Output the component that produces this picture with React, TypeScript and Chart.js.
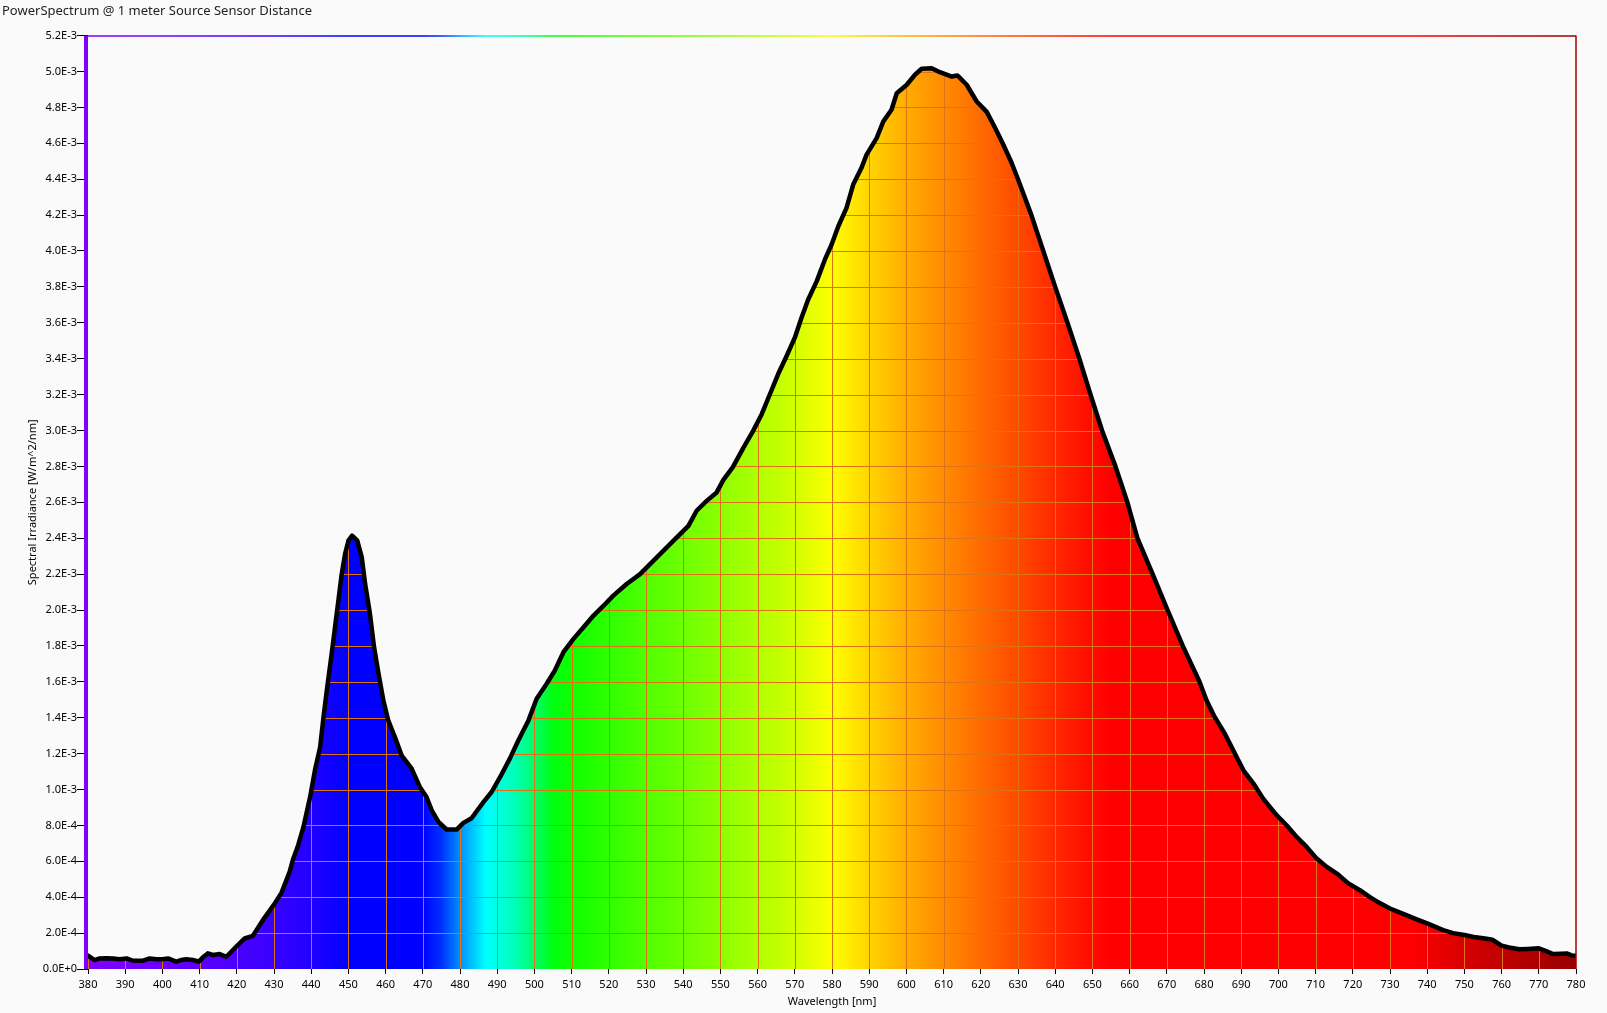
import React, { useEffect, useRef } from "react";
import { Chart, registerables } from "chart.js";

Chart.register(...registerables);

const TITLE = "PowerSpectrum @ 1 meter Source Sensor Distance";
const X_TITLE = "Wavelength [nm]";
const Y_TITLE = "Spectral Irradiance [W/m^2/nm]";

const X_MIN = 380;
const X_MAX = 780;
const X_STEP = 10;
const Y_MIN = 0;
const Y_MAX = 0.0052;
const Y_STEP = 0.0002;
const UNIT = 1e-3; // irradiance values below are in units of 1E-3 W/m^2/nm

const WAVELENGTHS = [
  380, 381.8, 383.1, 385, 386.7, 388.5, 390.4, 392.1, 394.8, 396.6, 398.4, 400, 401.5, 403.7, 405, 406.4,
  408.2, 409.8, 410.9, 412.2, 413.6, 415.4, 417.2, 418.5, 420, 422.1, 424.3, 427, 429.9, 432, 434.2, 435.2,
  436.5, 437.9, 439.7, 441, 442.4, 443.3, 444.3, 445.5, 446.4, 447.3, 448.2, 449.1, 450, 451, 452.4, 453.6,
  454.5, 455.8, 456.9, 458.1, 459.4, 460.7, 462.5, 464.3, 467, 469.2, 471, 472.4, 474.2, 476.4, 479.1, 480.9,
  483.1, 486.3, 488.5, 490.8, 493.4, 495.7, 498.4, 500.6, 503.3, 505.5, 507.8, 510.5, 513.2, 515.9, 518.6,
  521.2, 524.8, 528.4, 532.9, 537.4, 541.4, 543.6, 546.3, 549, 550.8, 553.3, 556.2, 558.8, 561.1, 563.3,
  565.5, 567.8, 570, 571.8, 573.6, 575.9, 578.1, 579.9, 581.7, 583.9, 585.7, 587.9, 589.3, 592, 593.8, 596,
  597.4, 600.1, 602.3, 604.1, 606.8, 609, 612.2, 613.7, 616.2, 618.9, 621.6, 624, 626, 628.3, 630, 633.6,
  636.8, 640, 643.3, 646.5, 649.5, 652.6, 656.2, 659.4, 662.1, 666.2, 670.2, 674.3, 678.8, 680.7, 682.9,
  685.6, 688.3, 690.6, 693.3, 695.9, 699.5, 702.2, 704.9, 707.6, 710.3, 713, 715.7, 718.8, 721.9, 724.5,
  727, 730, 732.2, 734.4, 737, 740, 744.3, 747, 750, 752.5, 755.1, 757.5, 760, 762, 764.8, 767, 770, 772,
  773.8, 776, 777.5, 779, 780,
];

const IRRADIANCE = [
  0.074, 0.05, 0.059, 0.06, 0.059, 0.054, 0.059, 0.046, 0.046, 0.059, 0.054, 0.055, 0.059, 0.041, 0.05, 0.054,
  0.05, 0.041, 0.065, 0.087, 0.078, 0.083, 0.068, 0.096, 0.128, 0.17, 0.184, 0.272, 0.356, 0.424, 0.541, 0.616,
  0.69, 0.79, 0.958, 1.107, 1.236, 1.403, 1.57, 1.756, 1.904, 2.052, 2.2, 2.312, 2.386, 2.414, 2.386, 2.293,
  2.145, 1.978, 1.793, 1.645, 1.496, 1.385, 1.292, 1.19, 1.116, 1.014, 0.958, 0.884, 0.819, 0.777, 0.777, 0.814,
  0.84, 0.93, 0.986, 1.07, 1.172, 1.274, 1.385, 1.506, 1.589, 1.663, 1.765, 1.839, 1.904, 1.969, 2.024,
  2.08, 2.145, 2.2, 2.293, 2.386, 2.469, 2.553, 2.608, 2.655, 2.725, 2.795, 2.905, 2.998, 3.091, 3.202,
  3.313, 3.415, 3.517, 3.628, 3.73, 3.832, 3.953, 4.036, 4.138, 4.24, 4.37, 4.462, 4.537, 4.629, 4.722, 4.787,
  4.879, 4.926, 4.982, 5.015, 5.018, 4.996, 4.972, 4.978, 4.926, 4.833, 4.775, 4.68, 4.595, 4.49, 4.4, 4.2,
  4.0, 3.8, 3.6, 3.4, 3.2, 3.0, 2.8, 2.6, 2.4, 2.2, 2.0, 1.8, 1.6, 1.496, 1.403,
  1.311, 1.2, 1.107, 1.033, 0.949, 0.857, 0.801, 0.736, 0.68, 0.615, 0.569, 0.532, 0.477, 0.439, 0.402,
  0.37, 0.337, 0.318, 0.3, 0.278, 0.254, 0.217, 0.2, 0.189, 0.178, 0.171, 0.163, 0.13, 0.12, 0.11, 0.112, 0.115, 0.1,
  0.083, 0.085, 0.087, 0.075, 0.074,
];

const SPECTRUM_NM = [380, 400, 420, 440, 450, 470, 475, 480, 487, 495, 500, 505, 510, 530, 550, 570, 580, 590, 600, 610, 620, 630, 640, 650, 655, 735, 750, 765, 780];
const SPECTRUM_COLORS = [
  "#8000ff", "#6a00ff", "#4c00ff", "#2000ff", "#0000ff", "#0000ff", "#0030ff", "#0090ff", "#00ffff", "#00ffb4",
  "#00ff6a", "#00ff10", "#10ff00", "#50ff00", "#8cff00", "#d2ff00", "#ffff00", "#ffd400", "#ffad00", "#ff8c00",
  "#ff6a00", "#ff4a00", "#ff2800", "#ff0a00", "#ff0000", "#ff0000", "#d80000", "#b40000", "#980000",
];

const FONT = "'Noto Sans', 'DejaVu Sans', sans-serif";
const GRID_COLOR = "rgb(222,114,20)";
const LEFT_BAR_COLOR = "#8000ff";
const RIGHT_BORDER_COLOR = "#a30000";
const BG = "#fafafa";

function spectrumGradient(ctx: CanvasRenderingContext2D, xScale: any) {
  const x0 = xScale.getPixelForValue(X_MIN);
  const x1 = xScale.getPixelForValue(X_MAX);
  const g = ctx.createLinearGradient(x0, 0, x1, 0);
  SPECTRUM_NM.forEach((nm, i) => {
    g.addColorStop((nm - X_MIN) / (X_MAX - X_MIN), SPECTRUM_COLORS[i]);
  });
  return g;
}

const spectrumPlugin = {
  id: "spectrumFrame",
  afterDatasetDraw(chart: any, args: any) {
    if (args.index !== 1) return;
    const { ctx, chartArea: a, scales } = chart;
    const x = scales.x;
    const y = scales.y;
    const pts = args.meta.data;
    if (!pts.length) return;
    const base = y.getPixelForValue(0);
    ctx.save();
    ctx.beginPath();
    ctx.moveTo(pts[0].x, base);
    pts.forEach((p: any) => ctx.lineTo(p.x, p.y));
    ctx.lineTo(pts[pts.length - 1].x, base);
    ctx.closePath();
    ctx.clip();
    ctx.strokeStyle = GRID_COLOR;
    ctx.lineWidth = 1;
    ctx.beginPath();
    x.ticks.forEach((t: any) => {
      const px = Math.round(x.getPixelForValue(t.value)) + 0.5;
      ctx.moveTo(px, a.top);
      ctx.lineTo(px, a.bottom);
    });
    y.ticks.forEach((t: any) => {
      const py = Math.round(y.getPixelForValue(t.value)) + 0.5;
      ctx.moveTo(a.left, py);
      ctx.lineTo(a.right, py);
    });
    ctx.stroke();
    ctx.restore();
  },
  afterDatasetsDraw(chart: any) {
    const { ctx, chartArea: a, scales } = chart;
    ctx.save();
    ctx.fillStyle = LEFT_BAR_COLOR;
    ctx.fillRect(a.left - 4, a.top, 4, a.bottom - a.top);
    ctx.strokeStyle = spectrumGradient(ctx, scales.x);
    ctx.lineWidth = 1.5;
    ctx.beginPath();
    ctx.moveTo(a.left, a.top + 0.5);
    ctx.lineTo(a.right, a.top + 0.5);
    ctx.stroke();
    ctx.strokeStyle = RIGHT_BORDER_COLOR;
    ctx.beginPath();
    ctx.moveTo(a.right, a.top);
    ctx.lineTo(a.right, a.bottom);
    ctx.stroke();
    ctx.restore();
  },
};

export default function App() {
  const canvasRef = useRef<HTMLCanvasElement | null>(null);

  useEffect(() => {
    const canvas = canvasRef.current;
    if (!canvas) return;
    const points = WAVELENGTHS.map((w, i) => ({ x: w, y: IRRADIANCE[i] * UNIT }));

    const chart = new Chart(canvas, {
      type: "line",
      data: {
        datasets: [
          {
            label: "line",
            data: points,
            borderColor: "#000",
            borderWidth: 4.5,
            pointRadius: 0,
            fill: false,
            tension: 0,
            borderJoinStyle: "round",
            borderCapStyle: "round",
          } as any,
          {
            label: "fill",
            data: points,
            borderWidth: 0,
            borderColor: "rgba(0,0,0,0)",
            pointRadius: 0,
            tension: 0,
            fill: "origin",
            backgroundColor: (c: any) => {
              const ch = c.chart;
              if (!ch.chartArea) return "rgba(0,0,0,0)";
              return spectrumGradient(ch.ctx, ch.scales.x);
            },
          } as any,
        ],
      },
      options: {
        responsive: false,
        animation: false,
        parsing: false as any,
        layout: { padding: { left: 2, right: 31, top: 0, bottom: 0 } },
        plugins: {
          legend: { display: false },
          tooltip: { enabled: false },
          title: {
            display: true,
            text: TITLE,
            align: "start",
            color: "#222",
            font: { family: FONT, size: 13, weight: "normal" },
            padding: { top: 3.5, bottom: 16.5 },
          },
        },
        scales: {
          x: {
            type: "linear",
            min: X_MIN,
            max: X_MAX,
            afterFit: (s: any) => {
              s.height = 44;
            },
            ticks: {
              stepSize: X_STEP,
              color: "#000",
              font: { family: FONT, size: 11 },
              padding: 4,
              maxRotation: 0,
              autoSkip: false,
            },
            grid: {
              display: true,
              drawOnChartArea: false,
              drawTicks: true,
              tickLength: 5,
              tickColor: "#000",
              tickWidth: 1,
            },
            border: { display: false },
            title: {
              display: true,
              text: X_TITLE,
              color: "#000",
              font: { family: FONT, size: 11 },
              padding: { top: 0, bottom: 5 },
            },
          },
          y: {
            type: "linear",
            min: Y_MIN,
            max: Y_MAX,
            afterFit: (s: any) => {
              s.width = 86;
            },
            ticks: {
              stepSize: Y_STEP,
              color: "#000",
              font: { family: FONT, size: 11 },
              padding: 0,
              autoSkip: false,
              callback: (v: any) => Number(v).toExponential(1).toUpperCase(),
            },
            grid: {
              display: true,
              drawOnChartArea: false,
              drawTicks: true,
              tickLength: 11,
              tickColor: "#000",
              tickWidth: 1,
            },
            border: { display: false },
            title: {
              display: true,
              text: Y_TITLE,
              color: "#000",
              font: { family: FONT, size: 11 },
              padding: { top: 24.4, bottom: 0 },
            },
          },
        },
      },
      plugins: [spectrumPlugin],
    });

    return () => chart.destroy();
  }, []);

  return (
    <div
      style={{
        position: "fixed",
        left: 0,
        top: 0,
        width: 1607,
        height: 1013,
        background: BG,
      }}
    >
      <canvas ref={canvasRef} width={1607} height={1013} style={{ display: "block" }} />
    </div>
  );
}
